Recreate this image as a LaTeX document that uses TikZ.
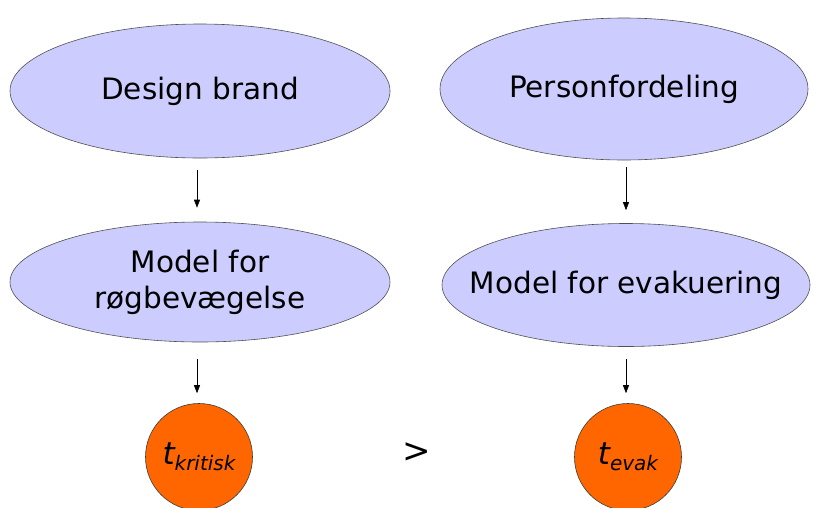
\documentclass[tikz,border=0pt]{standalone}
\usepackage{fontspec}
\setmainfont{DejaVu Sans}
\usetikzlibrary{shapes.geometric,arrows.meta}

\tikzset{
  modelbox/.style={ellipse, draw={rgb,255:red,80;green,80;blue,80}, line width=0.6pt, fill={rgb,255:red,204;green,204;blue,255}, inner sep=0pt, align=center, font=\fontsize{29.5}{36}\selectfont},
  timebox/.style={circle, draw={rgb,255:red,60;green,60;blue,60}, line width=0.6pt, fill={rgb,255:red,255;green,102;blue,0}, inner sep=0pt, minimum size=107pt},
  flow/.style={-{Triangle[length=8pt,width=6pt]}, line width=0.6pt}
}

\begin{document}
\begin{tikzpicture}[x=1pt,y=1pt,yscale=-1,xscale=1]
\useasboundingbox (0,0) rectangle (822,507);

% Ellipse nodes
\node (brand) [modelbox, minimum width=380pt, minimum height=134pt] at (200,91) {Design brand};
\node (person) [modelbox, minimum width=368pt, minimum height=142pt] at (624,89) {Personfordeling};
\node (roeg) [modelbox, minimum width=380pt, minimum height=120pt] at (200,282) {Model for\\røgbevægelse};
\node (evak) [modelbox, inner xsep=-30pt, minimum width=368pt, minimum height=123pt] at (626,285) {Model for evakuering};

% Circle nodes
\node (tkrit) [timebox] at (199,457) {\itshape\fontsize{31}{31}\selectfont t\raisebox{-6pt}{\fontsize{20}{20}\selectfont kritisk}};
\node (tevak) [timebox] at (628,457) {\itshape\fontsize{31}{31}\selectfont t\raisebox{-6pt}{\fontsize{20}{20}\selectfont evak}};

% Text Node
\node (gt) at (417,453) {\fontsize{34}{34}\selectfont >};

% Arrows
\draw [flow] ([xshift=-3pt,yshift=12pt]brand.south) -- ([xshift=-3pt,yshift=-14pt]roeg.north);
\draw [flow] ([xshift=2pt,yshift=7pt]person.south) -- ([yshift=-13pt]evak.north);
\draw [flow] ([xshift=-3pt,yshift=17pt]roeg.south) -- ([xshift=-2pt,yshift=-10pt]tkrit.north);
\draw [flow] ([yshift=12pt]evak.south) -- ([xshift=-2pt,yshift=-10pt]tevak.north);
\end{tikzpicture}
\end{document}
